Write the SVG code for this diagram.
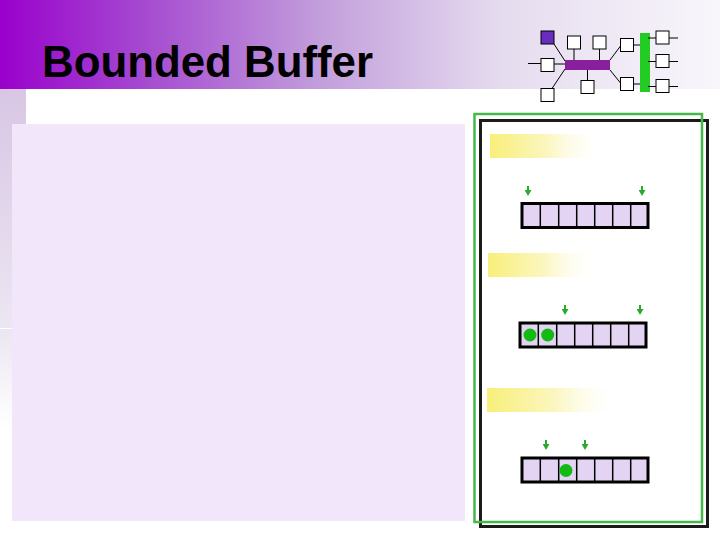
<svg xmlns="http://www.w3.org/2000/svg" width="720" height="540" viewBox="0 0 720 540">
<defs>
<linearGradient id="hdr" x1="0" y1="0" x2="1" y2="0">
<stop offset="0" stop-color="#9a00cc"/>
<stop offset="0.2" stop-color="#a54ad0"/>
<stop offset="0.45" stop-color="#c3a0dc"/>
<stop offset="0.7" stop-color="#e6dcef"/>
<stop offset="1" stop-color="#f8f6fb"/>
</linearGradient>
<linearGradient id="strip" x1="0" y1="0" x2="0" y2="1">
<stop offset="0" stop-color="#d8c6e4"/>
<stop offset="1" stop-color="#ece6f2"/>
</linearGradient>
<linearGradient id="strip2" x1="0" y1="0" x2="0" y2="1">
<stop offset="0" stop-color="#ebe6f2"/>
<stop offset="1" stop-color="#ffffff"/>
</linearGradient>
<linearGradient id="yel" x1="0" y1="0" x2="1" y2="0">
<stop offset="0" stop-color="#f8ef7a"/>
<stop offset="0.5" stop-color="#fbf6c0"/>
<stop offset="1" stop-color="#ffffff" stop-opacity="0"/>
</linearGradient>
<marker id="ah" viewBox="0 0 6 7" refX="1" refY="3.5" markerWidth="6" markerHeight="7" markerUnits="userSpaceOnUse" orient="auto">
<path d="M0,0 L6,3.5 L0,7 Z" fill="#2aaa2a"/>
</marker>
<style>
.title{font-family:"Liberation Sans",Arial,sans-serif;font-weight:bold;font-size:44px;fill:#000}
.sq{fill:#fff;stroke:#000;stroke-width:1}
.ln{stroke:#000;stroke-width:1;fill:none}
.buf{fill:#e2d4f2;stroke:#000;stroke-width:3}
.cell{stroke:#000;stroke-width:1.5}
.ptr{stroke:#2aaa2a;stroke-width:2;fill:none}
.dot{fill:#11bb11}
.ybar{fill:url(#yel)}
</style>
</defs>

<g id="background">
<rect x="0" y="0" width="720" height="540" fill="#ffffff"/>
<rect x="0" y="0" width="720" height="89" fill="url(#hdr)"/>
<rect x="0" y="89" width="26" height="239" fill="url(#strip)"/>
<rect x="0" y="329" width="14" height="100" fill="url(#strip2)"/>
<rect x="12" y="124" width="453" height="397" fill="#f2e6fa"/>
</g>

<g id="title">
<text class="title" x="42" y="77" textLength="331" lengthAdjust="spacingAndGlyphs">Bounded Buffer</text>
</g>

<g id="logo">
<rect x="541" y="31" width="13" height="13" fill="#6a2bbf" stroke="#000" stroke-width="1"/>
<rect x="565" y="60" width="45" height="10" fill="#8a1f9e"/>
<rect x="640" y="33" width="10" height="59" fill="#22cc22"/>
<rect class="sq" x="567.5" y="36" width="13" height="13"/>
<rect class="sq" x="593" y="36" width="13" height="13"/>
<rect class="sq" x="620.5" y="38.5" width="13" height="13"/>
<rect class="sq" x="656" y="31" width="13" height="13"/>
<rect class="sq" x="541" y="58.5" width="13" height="13"/>
<rect class="sq" x="656" y="54.5" width="13" height="13"/>
<rect class="sq" x="541" y="88.5" width="13" height="13"/>
<rect class="sq" x="581" y="80.5" width="13" height="13"/>
<rect class="sq" x="620.5" y="77.5" width="13" height="13"/>
<rect class="sq" x="656" y="79.5" width="13" height="13"/>
<path class="ln" d="M554,44 L565,61 M528,63.5 L541,63.5 M554,64 L565,64 M552,88.5 L565,69 M574,49 L574,60 M599.5,49 L599.5,60 M587.5,70 L587.5,80.5 M610,60 L620.5,46 M610,70 L620.5,83 M633.5,45 L640,45 M633.5,84 L640,84 M648,38 L656,38 M648,61.5 L656,61.5 M648,86.5 L656,86.5 M669,38 L678,38 M669,61.5 L678,61.5 M669,86.5 L678,86.5"/>
</g>

<g id="frames">
<rect x="480.5" y="120.5" width="227" height="406" fill="none" stroke="#1a1a1a" stroke-width="3"/>
<rect x="474.5" y="114" width="227.5" height="408" fill="none" stroke="#44b84a" stroke-width="2.5"/>
</g>

<g id="labels">
<rect class="ybar" x="490" y="134" width="115" height="24"/>
<rect class="ybar" x="488" y="253" width="112" height="24"/>
<rect class="ybar" x="487" y="388" width="135" height="24"/>
</g>

<g id="buffer-empty">
<rect class="buf" x="522" y="203.5" width="126" height="24"/>
<path class="cell" d="M540.3,203.5 V227.5 M558.7,203.5 V227.5 M576.7,203.5 V227.5 M594.7,203.5 V227.5 M612.7,203.5 V227.5 M630.7,203.5 V227.5"/>
</g>

<g id="buffer-two">
<rect class="buf" x="520" y="323" width="126" height="24"/>
<path class="cell" d="M538.3,323 V347 M556.7,323 V347 M574.7,323 V347 M592.7,323 V347 M610.7,323 V347 M628.7,323 V347"/>
<circle class="dot" cx="530" cy="335" r="6.5"/>
<circle class="dot" cx="547.7" cy="335" r="6.5"/>
</g>

<g id="buffer-one">
<rect class="buf" x="522" y="458" width="126" height="24"/>
<path class="cell" d="M540.3,458 V482 M558.7,458 V482 M576.7,458 V482 M594.7,458 V482 M612.7,458 V482 M630.7,458 V482"/>
<circle class="dot" cx="566" cy="470.5" r="6.5"/>
</g>

<g id="connectors">
<line class="ptr" x1="528" y1="186" x2="528" y2="191" marker-end="url(#ah)"/>
<line class="ptr" x1="642" y1="186" x2="642" y2="191" marker-end="url(#ah)"/>
<line class="ptr" x1="565" y1="305" x2="565" y2="310" marker-end="url(#ah)"/>
<line class="ptr" x1="640" y1="305" x2="640" y2="310" marker-end="url(#ah)"/>
<line class="ptr" x1="546" y1="440" x2="546" y2="445" marker-end="url(#ah)"/>
<line class="ptr" x1="585" y1="440" x2="585" y2="445" marker-end="url(#ah)"/>
</g>
</svg>
